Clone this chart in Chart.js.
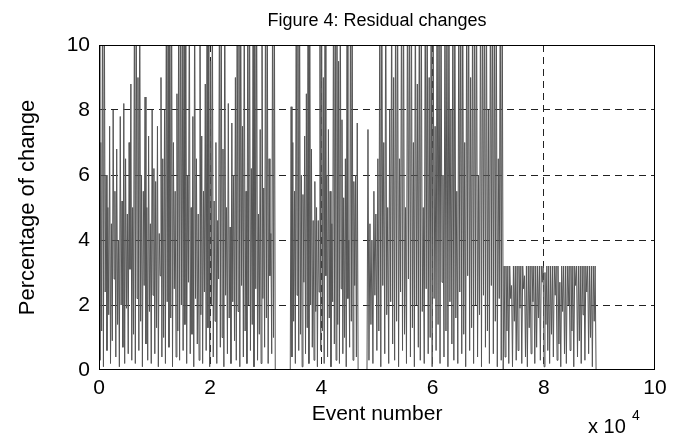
<!DOCTYPE html>
<html><head><meta charset="utf-8">
<script src="https://cdn.jsdelivr.net/npm/chart.js@4/dist/chart.umd.min.js"></script>
<style>html,body{margin:0;padding:0;background:#fff}canvas{display:block}</style>
</head><body>
<canvas id="c" width="679" height="439"></canvas>
<script>
// ---- data (event number in units of 10^4, percentage of change) ----
const chartTitle = 'Figure 4: Residual changes';
const xTitle = 'Event number';
const yTitle = 'Percentage of change';
const xTicks = [0, 2, 4, 6, 8, 10];
const yTicks = [0, 2, 4, 6, 8, 10];

const segARange = [0, 3.17];
const segAValues = [
  12,0.3, 7,1.2, 12,0.1, 12,2.4, 6,0.6, 5,1.7, 7.5,0.2, 4.5,0.9, 8,2.8, 5.5,0.4,
  6.8,1.4, 4,0.1, 7.8,2.0, 5.2,0.7, 8.2,0.2, 6.5,1.9, 4.8,0.5, 7,3.1, 8.8,0.3, 5,1.1,
  12,0.2, 12,2.2, 9,0.6, 12,1.5, 6,0.1, 5.5,2.6, 8.4,0.8, 5,0.3, 7.2,1.8, 4.5,0.2,
  8,2.3, 6.2,0.5, 5.8,1.3, 7.5,0.1, 4.2,2.9, 9,0.4, 6.5,1.0, 8,0.2, 12,2.1, 12,0.7,
  12,1.6, 12,0.1, 7,2.5, 5.5,0.4, 8.5,1.2, 12,0.3, 12,2.0, 10.5,0.6, 12,1.4, 12,0.2,
  6,2.7, 12,0.5, 5,1.1, 7.8,0.1, 12,2.2, 6.5,0.8, 4.8,0.3, 12,1.7, 7.2,0.2, 5.5,2.4,
  8.8,0.6, 12,1.3, 12,0.1, 9.5,2.0, 12,0.4, 5.2,1.5, 7,0.2, 4.6,2.8, 12,0.7, 12,1.0,
  6.8,0.1, 12,2.3, 5,0.5, 8.2,1.6, 4.4,0.2, 7.6,2.1, 6,0.9, 9,0.3, 12,1.8, 12,0.1,
  12,2.6, 7.5,0.4, 12,1.2, 5.5,0.2, 12,2.0, 12,0.6, 6.2,1.4, 12,0.1, 12,2.5, 12,0.3,
  4.8,1.1, 7.4,0.2, 12,2.2, 5.6,0.7, 12,1.6, 12,0.2, 6.5,2.9, 4.2,0.5, 12,1.0, 12,0
];

const segBRange = [3.44, 4.66];
const segBValues = [
  0, 8.1,0.4, 7.0,1.5, 5.5,0.2, 12,2.3, 12,0.6, 12,1.1, 6,0.1, 5.4,2.7, 7.2,0.5, 8.5,1.3,
  12,0.2, 12,2.0, 6.8,0.7, 4.6,0.3, 5.8,1.8, 5.0,0.1, 4.6,2.4, 12,0.6, 12,1.2, 9,0.2,
  12,2.9, 6,0.4, 7.4,1.6, 5.5,0.1, 4.5,2.1, 12,0.8, 12,0.3, 12,1.4, 9.5,0.2, 12,2.5,
  7.7,0.5, 5.3,1.0, 6.5,0.1, 12,2.2, 4,0.7, 12,1.5, 12,0.3, 5.8,2.6, 6,0.4, 7.6,0
];

const segCRange = [4.82, 7.27];
const segCValues = [
  0, 7.4,0.3, 4.5,1.4, 4.0,0.2, 5.5,2.3, 4.8,0.6, 6.5,1.2, 12,0.1, 12,2.6, 7,0.5, 12,1.7,
  5,0.2, 8,2.1, 12,0.8, 9,0.3, 12,1.5, 12,0.1, 6.5,2.4, 12,0.6, 12,1.1, 5,0.2,
  12,2.8, 12,0.4, 12,1.3, 7,0.1, 12,2.0, 8.8,0.7, 12,0.3, 12,1.8, 5,0.2, 12,2.5,
  12,0.5, 9,1.0, 12,0.1, 12,2.2, 7.5,0.6, 12,1.4, 12,0.2, 12,2.7, 6,0.4, 12,1.2,
  12,0.1, 12,2.1, 8,0.8, 12,0.3, 12,1.6, 5.5,0.2, 12,2.4, 12,0.5, 12,1.1, 7,0.1,
  12,2.9, 12,0.6, 9,1.3, 12,0.2, 12,2.0, 12,0.4, 6,1.7, 12,0.1, 12,2.3, 12,0.7,
  12,1.2, 8,0.2, 12,2.6, 12,0.5, 12,1.5, 12,0.1, 6.5,2.2, 12,0.3, 12,0
];

const segDRange = [7.27, 8.94];
const segDValues = [
  0, 3.2,0.4, 3.2,1.2, 3.2,0.2, 3.2,2.2, 2.6,0.1, 3.2,1.5, 3.2,0.3, 3.2,0.6, 3.2,1.9, 3.2,0.2,
  3.2,2.5, 2.9,0.4, 3.2,0.1, 3.2,1.3, 3.2,0.5, 3.2,2.1, 3.2,0.2, 3.2,0.7, 3.2,1.6, 3.2,0.3,
  3.2,2.7, 3.2,0.1, 3.0,1.4, 3.2,0.6, 3.2,0.2, 3.2,1.1, 3.2,0.4, 3.2,2.3, 3.2,0.3, 3.2,0.8,
  2.7,0.1, 3.2,1.8, 3.2,0.5, 3.2,0.2, 3.2,2.0, 3.2,0.6, 3.2,1.2, 3.2,0.1, 3.2,2.6, 3.2,0.4,
  3.2,0.9, 3.2,0.2, 3.2,1.7, 3.2,0.3, 3.2,2.4, 3.2,0.5, 3.2,1.0, 3.2,0.1, 3.2,1.5, 3.2,0
];

// ---- build points: samples spread evenly over each segment's event range ----
function place(range, values) {
  const n = values.length;
  return values.map((v, i) => ({ x: range[0] + (range[1] - range[0]) * i / (n - 1), y: v }));
}
const points = [].concat(
  place(segARange, segAValues),
  place(segBRange, segBValues),
  place(segCRange, segCValues),
  place(segDRange, segDValues)
);

const FONT = "'Liberation Sans', Arial, Helvetica, sans-serif";
Chart.defaults.font.family = FONT;
Chart.defaults.color = '#000';

const innerGrid = (c) => (c.tick && (c.tick.value === 0 || c.tick.value === 10)) ? 'rgba(0,0,0,0)' : '#222';

const boxPlugin = {
  id: 'box',
  afterDraw(chart) {
    const { ctx, chartArea: a } = chart;
    ctx.save();
    ctx.strokeStyle = '#000';
    ctx.lineWidth = 1;
    ctx.strokeRect(Math.round(a.left) + 0.5, Math.round(a.top) + 0.5,
                   Math.round(a.right - a.left) - 1, Math.round(a.bottom - a.top) - 1);
    ctx.fillStyle = '#000';
    ctx.textBaseline = 'alphabetic';
    ctx.textAlign = 'left';
    ctx.font = '20px ' + FONT;
    ctx.fillText('x 10', 588, 433);
    ctx.font = '14px ' + FONT;
    ctx.fillText('4', 632, 420);
    ctx.restore();
  }
};

new Chart(document.getElementById('c'), {
  type: 'line',
  data: { datasets: [{ data: points, borderColor: '#555', borderWidth: 1, pointRadius: 0, tension: 0, fill: false }] },
  options: {
    responsive: false, animation: false, devicePixelRatio: 1,
    layout: { padding: { left: 0, right: 24, top: 0, bottom: 0 } },
    plugins: {
      legend: { display: false }, tooltip: { enabled: false },
      title: { display: true, fullSize: false, text: chartTitle, color: '#000', font: { size: 18, weight: 'normal' }, padding: { top: 10, bottom: 13.4 } }
    },
    scales: {
      x: {
        type: 'linear', min: 0, max: 10,
        afterBuildTicks: s => { s.ticks = xTicks.map(v => ({ value: v })); },
        ticks: { color: '#000', font: { size: 21 }, padding: 6, maxRotation: 0, autoSkip: false },
        grid: { color: innerGrid, lineWidth: 1, drawTicks: false },
        border: { display: false, dash: [7, 5] },
        title: { display: true, text: xTitle, color: '#000', font: { size: 21 }, padding: { top: 0, bottom: 12 } },
        afterFit: s => { s.height = 69; }
      },
      y: {
        type: 'linear', min: 0, max: 10,
        afterBuildTicks: s => { s.ticks = yTicks.map(v => ({ value: v })); },
        ticks: { color: '#000', font: { size: 21 }, padding: 9, autoSkip: false },
        grid: { color: innerGrid, lineWidth: 1, drawTicks: false },
        border: { display: false, dash: [7, 5] },
        title: { display: true, text: yTitle, color: '#000', font: { size: 22 }, padding: { top: 15, bottom: 0 } },
        afterFit: s => { s.width = 99; }
      }
    }
  },
  plugins: [boxPlugin]
});
</script></body></html>
